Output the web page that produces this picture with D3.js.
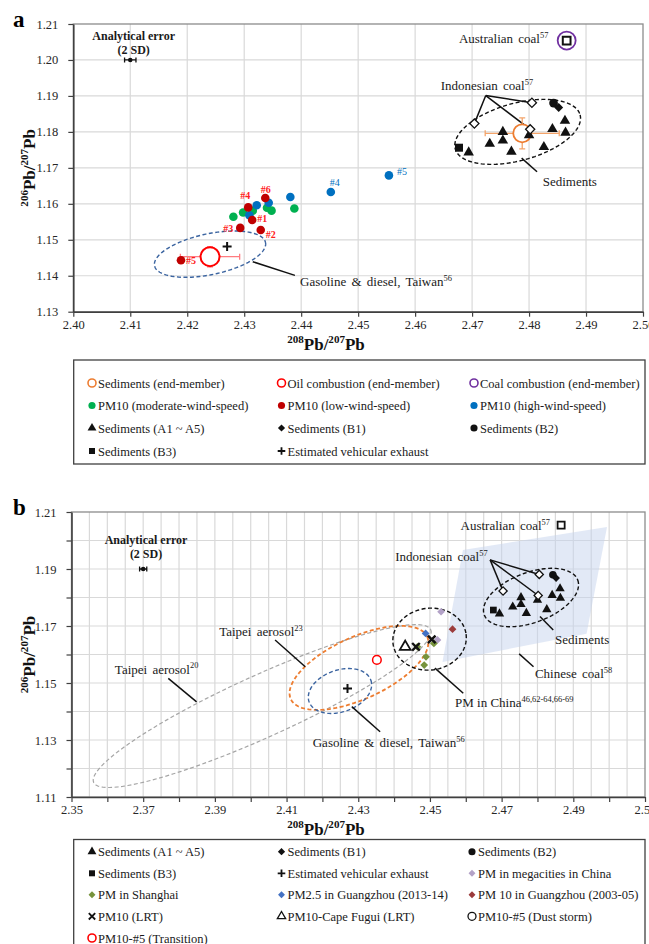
<!DOCTYPE html>
<html><head><meta charset="utf-8">
<script src="https://cdn.jsdelivr.net/npm/d3@7"></script>
<style>
body { margin: 0; background: #fff; }
svg { display: block; }
</style></head>
<body>
<svg id="chart" width="649" height="944"></svg>
<script>
// ---- data (208Pb/207Pb, 206Pb/207Pb) ----
const pm10Moderate = [[2.4281, 1.1564], [2.4298, 1.1576], [2.4315, 1.1581], [2.4340, 1.1589], [2.4348, 1.1581], [2.4388, 1.1587]];
const pm10Low = [[2.4314, 1.1555], [2.4329, 1.1527], [2.4293, 1.1533], [2.4307, 1.1590], [2.4189, 1.1443], [2.4337, 1.1616]];
const pm10LowNames = ["#1", "#2", "#3", "#4", "#5", "#6"];
const pm10High = [[2.4322, 1.1596], [2.4309, 1.1568], [2.4343, 1.1603], [2.4381, 1.1619], [2.4452, 1.1633], [2.4554, 1.1679]];
const pm10HighNames = ["", "", "", "", "#4", "#5"];
const sedimentsA = [[2.4694, 1.1743], [2.4731, 1.1767], [2.4754, 1.1800], [2.4754, 1.1776], [2.4769, 1.1745],
                    [2.4800, 1.1791], [2.4826, 1.1758], [2.4841, 1.1808], [2.4863, 1.1831], [2.4864, 1.1798]];
const sedimentsB1 = [[2.4852, 1.1868]];
const sedimentsB2 = [[2.4843, 1.1880]];
const sedimentsB3 = [[2.4677, 1.1756]];
const indonesianCoal = [[2.4805, 1.1881], [2.4704, 1.1823], [2.4802, 1.1807]];
const australianCoal = [[2.4866, 1.2054]];
const vehicleExhaust = [[2.4270, 1.1481]];
// end-members: x, y, 2SD x, 2SD y
const sedimentEnd = [2.4788, 1.1796, 0.0065, 0.0043];
const oilEnd = [2.4240, 1.1453, 0.0052, 0.0028];
const coalEnd = [2.4866, 1.2054];
const pmMegacities = [[2.4531, 1.1750], [2.4521, 1.1651]];
const pmShanghai = [[2.4465, 1.1627], [2.4511, 1.1639], [2.4489, 1.1592], [2.4484, 1.1563]];
const pm25Guangzhou = [[2.4488, 1.1674]];
const pm10Guangzhou = [[2.4563, 1.1689]];
const pm10LRT = [[2.4461, 1.1627], [2.4505, 1.1653]];
const capeFugui = [[2.4431, 1.1627]];
const transition = [[2.4352, 1.1581]];
const chineseCoal = [[2.4535, 1.1574], [2.4592, 1.1967], [2.4994, 1.2047], [2.4937, 1.1673]];
// ellipses: centre x, centre y, semi-axis a (dx, dy), semi-axis b (dx, dy)
const ellGasolineA = [2.4240, 1.1460, 0.00974, 0.00325, 0.00074, -0.00556];
const ellSedimentsA = [2.4780, 1.1800, 0.01096, 0.00473, 0.00132, -0.00770];
const ellTaipei20 = [2.4032, 1.1419, 0.04701, 0.02681, 0.00357, -0.00989];
const ellTaipei23 = [2.4302, 1.1553, 0.01903, 0.01095, 0.00360, -0.00989];
const ellGasolineB = [2.4249, 1.1472, 0.00862, 0.00379, 0.00193, -0.00691];
const ellChina = [2.4499, 1.1654, 0.01018, 0.00175, 0.00117, -0.01074];
const ellSedimentsB = [2.4782, 1.1800, 0.01303, 0.00614, 0.00248, -0.00821];

const FONT = '"Liberation Serif","Times New Roman",serif';
const svg = d3.select("#chart").attr("font-family", FONT);

// text with ^superscript parts
function richText(g, x, y, parts, o = {}) {
    const fs = o.size || 13;
    const t = g.append("text").attr("x", x).attr("y", y)
        .attr("font-size", fs)
        .attr("font-weight", o.bold ? "bold" : null)
        .attr("text-anchor", o.anchor || "start")
        .attr("fill", o.fill || "#1a1a1a")
        .attr("word-spacing", o.ws || 0);
    let up = false;
    parts.forEach(p => {
        const sup = p.startsWith("^");
        const ts = t.append("tspan").text(sup ? p.slice(1) : p);
        if (sup) {
            ts.attr("font-size", fs * 0.65);
            if (!up) ts.attr("dy", -fs * 0.4);
            up = true;
        } else {
            if (up) ts.attr("dy", fs * 0.4);
            up = false;
        }
    });
    if (o.rotate) t.attr("transform", `rotate(${o.rotate},${x},${y})`);
    return t;
}

function drawMarker(g, px, py, m) {
    const s = m.size, c = m.color;
    if (m.kind === "plus")
        return g.append("path").attr("d", `M${px - s},${py}H${px + s}M${px},${py - s}V${py + s}`)
            .attr("stroke", c).attr("stroke-width", m.sw || 2);
    if (m.kind === "cross")
        return g.append("path").attr("d", `M${px - s},${py - s}L${px + s},${py + s}M${px - s},${py + s}L${px + s},${py - s}`)
            .attr("stroke", c).attr("stroke-width", m.sw || 2.2);
    if (m.kind === "ring")
        return g.append("circle").attr("cx", px).attr("cy", py).attr("r", s)
            .attr("fill", "#fff").attr("stroke", c).attr("stroke-width", m.sw || 1.5);
    const type = { dot: d3.symbolCircle, tri: d3.symbolTriangle, square: d3.symbolSquare, diamond: d3.symbolSquare }[m.kind];
    return g.append("path")
        .attr("transform", `translate(${px},${py})` + (m.kind === "diamond" ? " rotate(45)" : ""))
        .attr("d", d3.symbol().type(type).size(s)())
        .attr("fill", m.open ? "#fff" : c)
        .attr("stroke", m.open ? c : "none")
        .attr("stroke-width", m.sw || 1.3);
}

function plotSeries(p, data, m) {
    data.forEach(d => drawMarker(p.g, p.x(d[0]), p.y(d[1]), m));
}

function ellipse(p, e, stroke, sw) {
    const pts = d3.range(0, 121).map(i => {
        const t = i / 120 * 2 * Math.PI;
        return [p.x(e[0] + e[2] * Math.cos(t) + e[4] * Math.sin(t)),
                p.y(e[1] + e[3] * Math.cos(t) + e[5] * Math.sin(t))];
    });
    p.g.append("path").attr("d", d3.line()(pts))
        .attr("fill", "none").attr("stroke", stroke).attr("stroke-width", sw || 1.3)
        .attr("stroke-dasharray", "4,2.5");
}

function leader(p, a, b) {
    p.g.append("line")
        .attr("x1", p.x(a[0])).attr("y1", p.y(a[1]))
        .attr("x2", p.x(b[0])).attr("y2", p.y(b[1]))
        .attr("stroke", "#111").attr("stroke-width", 1.5);
}

function errorBar(p, d, color, cap) {
    const cx = p.x(d[0]), cy = p.y(d[1]);
    const x0 = p.x(d[0] - d[2]), x1 = p.x(d[0] + d[2]);
    let path = `M${x0},${cy}H${x1}M${x0},${cy - cap}V${cy + cap}M${x1},${cy - cap}V${cy + cap}`;
    if (d[3]) {
        const y0 = p.y(d[1] - d[3]), y1 = p.y(d[1] + d[3]);
        path += `M${cx},${y0}V${y1}M${cx - cap},${y0}H${cx + cap}M${cx - cap},${y1}H${cx + cap}`;
    }
    p.g.append("path").attr("d", path).attr("fill", "none").attr("stroke", color).attr("stroke-width", 1.3);
}

function makePanel(o) {
    const x = d3.scaleLinear().domain(o.xd).range([o.l, o.r]);
    const y = d3.scaleLinear().domain(o.yd).range([o.b, o.t]);
    const g = svg.append("g");
    g.append("g").selectAll("line").data(o.xGrid).join("line")
        .attr("x1", d => x(d)).attr("x2", d => x(d)).attr("y1", o.t).attr("y2", o.b)
        .attr("stroke", "#d9d9d9").attr("stroke-width", 1.2);
    g.append("g").selectAll("line").data(o.yGrid).join("line")
        .attr("x1", o.l).attr("x2", o.r).attr("y1", d => y(d)).attr("y2", d => y(d))
        .attr("stroke", "#d9d9d9").attr("stroke-width", 1.2);
    return { x, y, g, o };
}

function finishAxes(p) {
    const o = p.o, g = p.g;
    g.append("rect").attr("x", o.l).attr("y", o.t).attr("width", o.r - o.l).attr("height", o.b - o.t)
        .attr("fill", "none").attr("stroke", "#8c8c8c").attr("stroke-width", 1.3);
    const style = s => {
        s.attr("font-family", FONT).attr("font-size", 12.5);
        s.select(".domain").attr("stroke", "#404040").attr("stroke-width", 1.6);
        s.selectAll(".tick line").attr("stroke", "#404040").attr("stroke-width", 1.2);
        s.selectAll(".tick text").attr("fill", "#262626");
    };
    g.append("g").attr("transform", `translate(0,${o.b})`)
        .call(d3.axisBottom(p.x).tickValues(o.xTicks).tickSize(5).tickSizeOuter(0)
            .tickFormat((d, i) => i % o.xEvery === 0 ? d.toFixed(2) : ""))
        .call(style);
    g.append("g").attr("transform", `translate(${o.l},0)`)
        .call(d3.axisLeft(p.y).tickValues(o.yTicks).tickSize(5).tickSizeOuter(0).tickPadding(10)
            .tickFormat((d, i) => i % o.yEvery === 0 ? d.toFixed(2) : ""))
        .call(style);
    richText(svg, o.titleX, o.b + 38, ["^208", "Pb/", "^207", "Pb"], { size: 17, bold: true, anchor: "middle", fill: "#111" });
    richText(svg, 35, (o.t + o.b) / 2, ["^206", "Pb/", "^207", "Pb"], { size: 17, bold: true, anchor: "middle", fill: "#111", rotate: -90 });
    svg.append("text").attr("x", 13).attr("y", o.t + 3).attr("font-size", 23).attr("font-weight", "bold").text(o.tag);
}

function analytical(p, d, lab) {
    errorBar(p, d, "#111", 2.5);
    drawMarker(p.g, p.x(d[0]), p.y(d[1]), { kind: "dot", color: "#111", size: 16 });
    richText(p.g, p.x(lab[0]), p.y(lab[1]), ["Analytical error"], { size: 12, bold: true, anchor: "middle" });
    richText(p.g, p.x(lab[0]), p.y(lab[1]) + 14, ["(2 SD)"], { size: 12, bold: true, anchor: "middle" });
}

function legend(items, box, rows, cols) {
    const g = svg.append("g");
    g.append("rect").attr("x", box[0]).attr("y", box[1]).attr("width", box[2]).attr("height", box[3])
        .attr("fill", "#fff").attr("stroke", "#404040").attr("stroke-width", 1.3);
    items.forEach((it, i) => {
        const r = Math.floor(i / 3), c = i % 3;
        drawMarker(g, cols[c], rows[r], it.m);
        g.append("text").attr("x", cols[c] + 6).attr("y", rows[r] + 4.5)
            .attr("font-size", 12.5).attr("fill", "#1a1a1a").text(it.label);
    });
}

const tk = (a, n, step) => d3.range(n).map(i => +(a + i * step).toFixed(4));

// ================= panel a =================
const A = makePanel({
    l: 73.3, r: 643, t: 24, b: 311.7, xd: [2.40, 2.50], yd: [1.13, 1.21],
    xGrid: tk(2.41, 9, 0.01), yGrid: tk(1.14, 7, 0.01),
    xTicks: tk(2.40, 11, 0.01), yTicks: tk(1.13, 9, 0.01), xEvery: 1, yEvery: 1,
    titleX: 326, tag: "a"
});
ellipse(A, ellGasolineA, "#3b64a0", 1.4);
ellipse(A, ellSedimentsA, "#111", 1.4);
leader(A, [2.4315, 1.1439], [2.4389, 1.1401]);
leader(A, [2.4787, 1.1727], [2.4814, 1.1689]);
indonesianCoal.forEach(d => leader(A, [2.4724, 1.1901], d));
errorBar(A, oilEnd, "#ff7c80", 3);
errorBar(A, sedimentEnd, "#f4a46a", 3);
drawMarker(A.g, A.x(oilEnd[0]), A.y(oilEnd[1]), { kind: "ring", color: "#ff0000", size: 9.5, sw: 2 });
drawMarker(A.g, A.x(sedimentEnd[0]), A.y(sedimentEnd[1]), { kind: "ring", color: "#ed7d31", size: 9, sw: 1.8 });
drawMarker(A.g, A.x(coalEnd[0]), A.y(coalEnd[1]), { kind: "ring", color: "#7030a0", size: 9, sw: 1.8 });
plotSeries(A, australianCoal, { kind: "square", open: true, color: "#111", size: 60, sw: 2 });
plotSeries(A, pm10Moderate, { kind: "dot", color: "#00b050", size: 58 });
plotSeries(A, pm10High, { kind: "dot", color: "#0070c0", size: 58 });
plotSeries(A, pm10Low, { kind: "dot", color: "#c00000", size: 58 });
plotSeries(A, sedimentsA, { kind: "tri", color: "#111", size: 48 });
plotSeries(A, sedimentsB3, { kind: "square", color: "#111", size: 64 });
plotSeries(A, sedimentsB2, { kind: "dot", color: "#111", size: 60 });
plotSeries(A, sedimentsB1, { kind: "diamond", color: "#111", size: 40 });
plotSeries(A, indonesianCoal, { kind: "diamond", open: true, color: "#111", size: 42, sw: 1.3 });
plotSeries(A, vehicleExhaust, { kind: "plus", color: "#111", size: 4.5, sw: 2 });
const lowOff = [[10, -1], [10, 4], [-12, 1], [-3, -12], [10, 0], [0.5, -9]];
pm10Low.forEach((d, i) => A.g.append("text").attr("x", A.x(d[0]) + lowOff[i][0]).attr("y", A.y(d[1]) + lowOff[i][1] + 3.5)
    .attr("text-anchor", "middle").attr("font-size", 10).attr("font-weight", "bold").attr("fill", "#ff2020").text(pm10LowNames[i]));
const highOff = [[0, 0], [0, 0], [0, 0], [0, 0], [4, -9], [13, -4]];
pm10High.forEach((d, i) => A.g.append("text").attr("x", A.x(d[0]) + highOff[i][0]).attr("y", A.y(d[1]) + highOff[i][1] + 3.5)
    .attr("text-anchor", "middle").attr("font-size", 10).attr("fill", "#0070c0").text(pm10HighNames[i]));
analytical(A, [2.41, 1.20, 0.001], [2.4106, 1.2056]);
richText(A.g, A.x(2.4834), A.y(1.2047), ["Australian coal", "^57"], { anchor: "end", ws: 2 });
richText(A.g, A.x(2.4726), A.y(1.1916), ["Indonesian coal", "^57"], { anchor: "middle", ws: 2 });
richText(A.g, A.x(2.4824), A.y(1.1650), ["Sediments"]);
richText(A.g, A.x(2.4398), A.y(1.1371), ["Gasoline & diesel, Taiwan", "^56"], { ws: 2 });
finishAxes(A);

legend([
    { label: "Sediments (end-member)", m: { kind: "ring", color: "#ed7d31", size: 4, sw: 1.6 } },
    { label: "Oil combustion (end-member)", m: { kind: "ring", color: "#ff0000", size: 4, sw: 1.6 } },
    { label: "Coal combustion (end-member)", m: { kind: "ring", color: "#7030a0", size: 4, sw: 1.6 } },
    { label: "PM10 (moderate-wind-speed)", m: { kind: "dot", color: "#00b050", size: 40 } },
    { label: "PM10 (low-wind-speed)", m: { kind: "dot", color: "#c00000", size: 40 } },
    { label: "PM10 (high-wind-speed)", m: { kind: "dot", color: "#0070c0", size: 40 } },
    { label: "Sediments (A1 ~ A5)", m: { kind: "tri", color: "#111", size: 34 } },
    { label: "Sediments (B1)", m: { kind: "diamond", color: "#111", size: 26 } },
    { label: "Sediments (B2)", m: { kind: "dot", color: "#111", size: 40 } },
    { label: "Sediments (B3)", m: { kind: "square", color: "#111", size: 36 } },
    { label: "Estimated vehicular exhaust", m: { kind: "plus", color: "#111", size: 3.8, sw: 1.8 } }
], [73.7, 360, 571.3, 104], [383, 405.5, 428, 451], [92, 281.5, 474]);

// ================= panel b =================
const B = makePanel({
    l: 71.5, r: 645, t: 512, b: 797, xd: [2.35, 2.51], yd: [1.11, 1.21],
    xGrid: tk(2.355, 31, 0.005), yGrid: tk(1.12, 9, 0.01),
    xTicks: tk(2.35, 17, 0.01), yTicks: tk(1.11, 11, 0.01), xEvery: 2, yEvery: 2,
    titleX: 326, tag: "b"
});
B.g.append("path").attr("d", d3.line()(chineseCoal.map(d => [B.x(d[0]), B.y(d[1])])) + "Z")
    .attr("fill", "#c5d4ee").attr("fill-opacity", 0.5);
ellipse(B, ellTaipei20, "#a6a6a6", 1.2);
ellipse(B, ellTaipei23, "#ed7d31", 1.8);
ellipse(B, ellGasolineB, "#3b64a0", 1.4);
ellipse(B, ellChina, "#111", 1.4);
ellipse(B, ellSedimentsB, "#111", 1.4);
leader(B, [2.3770, 1.1516], [2.3849, 1.1434]);
leader(B, [2.4068, 1.1651], [2.4152, 1.1557]);
leader(B, [2.4282, 1.1417], [2.4361, 1.1329]);
leader(B, [2.4514, 1.1552], [2.4593, 1.1464]);
leader(B, [2.4807, 1.1733], [2.4844, 1.1686]);
leader(B, [2.4749, 1.1602], [2.4789, 1.1557]);
indonesianCoal.forEach(d => leader(B, [2.4668, 1.1932], d));
plotSeries(B, australianCoal, { kind: "square", open: true, color: "#111", size: 50, sw: 1.8 });
plotSeries(B, pmMegacities, { kind: "diamond", color: "#b3a2c7", size: 30 });
plotSeries(B, pm10Guangzhou, { kind: "diamond", color: "#9b3b3b", size: 30 });
plotSeries(B, pm25Guangzhou, { kind: "diamond", color: "#4472c4", size: 30 });
plotSeries(B, pmShanghai, { kind: "diamond", color: "#77933c", size: 30 });
plotSeries(B, capeFugui, { kind: "tri", open: true, color: "#111", size: 50, sw: 1.8 });
plotSeries(B, pm10LRT, { kind: "cross", color: "#111", size: 3.8, sw: 2.4 });
plotSeries(B, transition, { kind: "ring", color: "#ff0000", size: 4.3, sw: 1.5 });
plotSeries(B, vehicleExhaust, { kind: "plus", color: "#111", size: 4.5, sw: 2 });
plotSeries(B, sedimentsA, { kind: "tri", color: "#111", size: 38 });
plotSeries(B, sedimentsB3, { kind: "square", color: "#111", size: 45 });
plotSeries(B, sedimentsB2, { kind: "dot", color: "#111", size: 45 });
plotSeries(B, sedimentsB1, { kind: "diamond", color: "#111", size: 30 });
plotSeries(B, indonesianCoal, { kind: "diamond", open: true, color: "#111", size: 34, sw: 1.3 });
analytical(B, [2.37, 1.19, 0.001], [2.3708, 1.1988]);
richText(B.g, B.x(2.4835), B.y(1.2037), ["Australian coal", "^57"], { anchor: "end", ws: 2 });
richText(B.g, B.x(2.4532), B.y(1.1928), ["Indonesian coal", "^57"], { anchor: "middle", ws: 2 });
richText(B.g, B.x(2.4849), B.y(1.1637), ["Sediments"]);
richText(B.g, B.x(2.4793), B.y(1.1518), ["Chinese coal", "^58"], { ws: 2 });
richText(B.g, B.x(2.4570), B.y(1.1416), ["PM in China", "^46,62-64,66-69"]);
richText(B.g, B.x(2.4173), B.y(1.1275), ["Gasoline & diesel, Taiwan", "^56"], { ws: 2 });
richText(B.g, B.x(2.3912), B.y(1.1665), ["Taipei aerosol", "^23"], { ws: 2 });
richText(B.g, B.x(2.3621), B.y(1.1533), ["Taipei aerosol", "^20"], { ws: 2 });
finishAxes(B);

legend([
    { label: "Sediments (A1 ~ A5)", m: { kind: "tri", color: "#111", size: 34 } },
    { label: "Sediments (B1)", m: { kind: "diamond", color: "#111", size: 26 } },
    { label: "Sediments (B2)", m: { kind: "dot", color: "#111", size: 40 } },
    { label: "Sediments (B3)", m: { kind: "square", color: "#111", size: 36 } },
    { label: "Estimated vehicular exhaust", m: { kind: "plus", color: "#111", size: 3.8, sw: 1.8 } },
    { label: "PM in megacities in China", m: { kind: "diamond", color: "#b3a2c7", size: 24 } },
    { label: "PM in Shanghai", m: { kind: "diamond", color: "#77933c", size: 24 } },
    { label: "PM2.5 in Guangzhou (2013-14)", m: { kind: "diamond", color: "#4472c4", size: 24 } },
    { label: "PM 10 in Guangzhou (2003-05)", m: { kind: "diamond", color: "#9b3b3b", size: 24 } },
    { label: "PM10 (LRT)", m: { kind: "cross", color: "#111", size: 3.2, sw: 1.8 } },
    { label: "PM10-Cape Fugui (LRT)", m: { kind: "tri", open: true, color: "#111", size: 30, sw: 1.3 } },
    { label: "PM10-#5 (Dust storm)", m: { kind: "ring", color: "#111", size: 4, sw: 1.3 } },
    { label: "PM10-#5 (Transition)", m: { kind: "ring", color: "#ff0000", size: 4, sw: 1.6 } }
], [73.7, 839.5, 571.3, 130], [851.7, 873.3, 894.8, 916.3, 938], [92, 281.5, 472]);
</script>
</body></html>
